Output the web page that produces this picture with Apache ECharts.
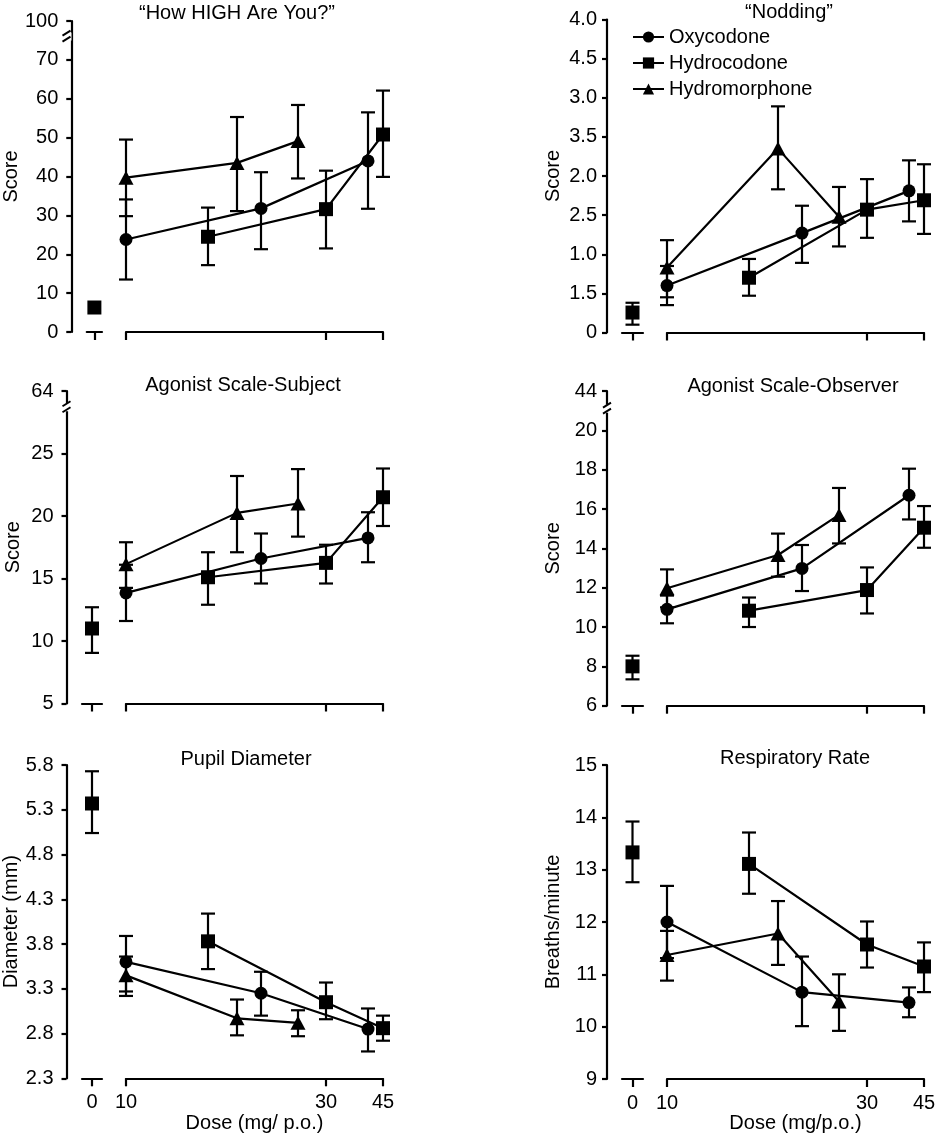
<!DOCTYPE html>
<html><head><meta charset="utf-8">
<script src="https://cdn.jsdelivr.net/npm/echarts@6/dist/echarts.min.js"></script>
<style>html,body{margin:0;padding:0;background:#fff}#c{width:942px;height:1143px}</style>
</head><body><div id="c"></div>
<script>
const FONT = '"Liberation Sans", Arial, Helvetica, sans-serif';

// x positions on the drawn (non-linear) dose scale: 10 mg -> 10, 30 mg -> 30, 45 mg -> 35.7
const oxyX = [10, 23.5, 34.2];
const hydroX = [18.2, 30, 35.7];
const hydromX = [10, 21.1, 27.2];
const placeboX = [0];
const xTickPos = [10, 30, 35.7];
const xTickLabels = ['10', '30', '45'];
const placeboTickLabels = ['0'];

// "How HIGH Are You?"
const highTicks = ['0','10','20','30','40','50','60','70','100'];
const highOxy = [23.8, 31.8, 44.0], highOxyLo = [13.5, 21.3, 31.7], highOxyHi = [34.1, 41.1, 56.5];
const highHydro = [24.5, 31.6, 50.8], highHydroLo = [17.2, 21.5, 39.9], highHydroHi = [32.0, 41.5, 62.1];
const highHydrom = [39.7, 43.5, 49.1], highHydromLo = [29.8, 31.1, 39.5], highHydromHi = [49.5, 55.3, 58.4];
const highPlacebo = [6.3], highPlaceboLo = [], highPlaceboHi = [];

// "Nodding"
const nodTicks = ['0','1.5','1.0','2.5','2.0','3.5','3.0','4.5','4.0'];
const nodOxy = [0.60, 1.27, 1.81], nodOxyLo = [0.35, 0.89, 1.42], nodOxyHi = [0.85, 1.62, 2.20];
const nodHydro = [0.70, 1.57, 1.69], nodHydroLo = [0.47, 1.21, 1.26], nodHydroHi = [0.94, 1.96, 2.15];
const nodHydrom = [0.83, 2.35, 1.48], nodHydromLo = [0.45, 1.83, 1.10], nodHydromHi = [1.18, 2.89, 1.86];
const nodPlacebo = [0.255], nodPlaceboLo = [0.10], nodPlaceboHi = [0.38];

// Agonist Scale-Subject
const agsTicks = ['5','10','15','20','25','64'];
const agsOxy = [13.85, 16.6, 18.25], agsOxyLo = [11.6, 14.6, 16.3], agsOxyHi = [16.1, 18.6, 20.3];
const agsHydro = [15.1, 16.25, 21.5], agsHydroLo = [12.9, 14.6, 19.2], agsHydroHi = [17.1, 17.7, 23.8];
const agsHydrom = [16.15, 20.25, 21.0], agsHydromLo = [14.25, 17.1, 18.35], agsHydromHi = [17.9, 23.2, 23.75];
const agsPlacebo = [11.0], agsPlaceboLo = [9.05], agsPlaceboHi = [12.7];

// Agonist Scale-Observer
const agoTicks = ['6','8','10','12','14','16','18','20','44'];
const agoOxy = [10.9, 12.98, 16.7], agoOxyLo = [10.19, 11.83, 15.47], agoOxyHi = [11.6, 14.17, 18.05];
const agoHydro = [10.83, 11.88, 15.05], agoHydroLo = [10.0, 10.69, 14.03], agoHydroHi = [11.5, 13.03, 16.15];
const agoHydrom = [11.97, 13.66, 15.7], agoHydromLo = [11.0, 12.56, 14.25], agoHydromHi = [12.93, 14.75, 17.07];
const agoPlacebo = [8.0], agoPlaceboLo = [7.34], agoPlaceboHi = [8.54];

// Pupil Diameter
const pupilTicks = ['2.3','2.8','3.3','3.8','4.3','4.8','5.3','5.8'];
const pupilOxy = [3.60, 3.25, 2.85], pupilOxyLo = [3.27, 3.0, 2.60], pupilOxyHi = [3.89, 3.49, 3.08];
const pupilHydro = [3.83, 3.15, 2.86], pupilHydroLo = [3.52, 2.96, 2.72], pupilHydroHi = [4.14, 3.37, 3.0];
const pupilHydrom = [3.45, 2.97, 2.92], pupilHydromLo = [3.22, 2.78, 2.77], pupilHydromHi = [3.66, 3.18, 3.06];
const pupilPlacebo = [5.37], pupilPlaceboLo = [5.04], pupilPlaceboHi = [5.73];

// Respiratory Rate
const respTicks = ['9','10','11','12','13','14','15'];
const respOxy = [12.0, 10.66, 10.46], respOxyLo = [11.31, 10.01, 10.18], respOxyHi = [12.69, 11.34, 10.75];
const respHydro = [13.11, 11.57, 11.15], respHydroLo = [12.54, 11.13, 10.66], respHydroHi = [13.71, 12.01, 11.61];
const respHydrom = [11.37, 11.78, 10.48], respHydromLo = [10.88, 11.18, 9.92], respHydromHi = [11.83, 12.40, 11.0];
const respPlacebo = [13.33], respPlaceboLo = [12.76], respPlaceboHi = [13.92];

const panels = [
  {title:'“How HIGH Are You?”', yName:'Score', ticks:highTicks, min:0, step:10, brk:76, col:0, top:21, height:311, tx:237, ty:3, bottom:false,
   d:[[highOxy,highOxyLo,highOxyHi],[highHydro,highHydroLo,highHydroHi],[highHydrom,highHydromLo,highHydromHi],[highPlacebo,highPlaceboLo,highPlaceboHi]]},
  {title:'“Nodding”', yName:'Score', ticks:nodTicks, min:0, step:0.5, brk:null, col:1, top:19.5, height:313, tx:789, ty:2, bottom:false,
   d:[[nodOxy,nodOxyLo,nodOxyHi],[nodHydro,nodHydroLo,nodHydroHi],[nodHydrom,nodHydromLo,nodHydromHi],[nodPlacebo,nodPlaceboLo,nodPlaceboHi]]},
  {title:'Agonist Scale-Subject', yName:'Score', ticks:agsTicks, min:5, step:5, brk:28.7, col:0, top:391, height:312.5, tx:243, ty:375, bottom:false,
   d:[[agsOxy,agsOxyLo,agsOxyHi],[agsHydro,agsHydroLo,agsHydroHi],[agsHydrom,agsHydromLo,agsHydromHi],[agsPlacebo,agsPlaceboLo,agsPlaceboHi]]},
  {title:'Agonist Scale-Observer', yName:'Score', ticks:agoTicks, min:6, step:2, brk:21.1, col:1, top:391, height:314.7, tx:793, ty:376, bottom:false,
   d:[[agoOxy,agoOxyLo,agoOxyHi],[agoHydro,agoHydroLo,agoHydroHi],[agoHydrom,agoHydromLo,agoHydromHi],[agoPlacebo,agoPlaceboLo,agoPlaceboHi]]},
  {title:'Pupil Diameter', yName:'Diameter (mm)', ticks:pupilTicks, min:2.3, step:0.5, brk:null, col:0, top:765, height:313.3, tx:246, ty:749, bottom:true, xName:'Dose (mg/ p.o.)',
   d:[[pupilOxy,pupilOxyLo,pupilOxyHi],[pupilHydro,pupilHydroLo,pupilHydroHi],[pupilHydrom,pupilHydromLo,pupilHydromHi],[pupilPlacebo,pupilPlaceboLo,pupilPlaceboHi]]},
  {title:'Respiratory Rate', yName:'Breaths/minute', ticks:respTicks, min:9, step:1, brk:null, col:1, top:765, height:314, tx:795, ty:748, bottom:true, xName:'Dose (mg/p.o.)',
   d:[[respOxy,respOxyLo,respOxyHi],[respHydro,respHydroLo,respHydroHi],[respHydrom,respHydromLo,respHydromHi],[respPlacebo,respPlaceboLo,respPlaceboHi]]}
];

const cols = [
  {axisX:66.5, pLeft:82, pWidth:20, mLeft:126, mWidth:257, lblMargin:13, nameGap:43},
  {axisX:607, pLeft:622, pWidth:21, mLeft:667, mWidth:257, lblMargin:10, nameGap:44}
];

const BLACK = '#000';
const LW = 2.2;
const lineSt = {color:BLACK, width:LW};
const txt = {fontFamily:FONT, fontSize:20, color:BLACK};
const names = ['Oxycodone','Hydrocodone','Hydromorphone'];
const symbols = ['circle','rect','triangle'];
const sizes = [13, 14, [15,14]];
const xsets = [oxyX, hydroX, hydromX];

function errRender(params, api) {
  const x = api.value(0), lo = api.value(1), hi = api.value(2);
  const p1 = api.coord([x, lo]), p2 = api.coord([x, hi]);
  const w = 7;
  const style = {stroke:BLACK, lineWidth:LW, fill:null};
  return {type:'group', children:[
    {type:'line', shape:{x1:p1[0], y1:p1[1], x2:p2[0], y2:p2[1]}, style},
    {type:'line', shape:{x1:p1[0]-w, y1:p1[1], x2:p1[0]+w, y2:p1[1]}, style},
    {type:'line', shape:{x1:p2[0]-w, y1:p2[1], x2:p2[0]+w, y2:p2[1]}, style}
  ]};
}

const grid = [], xAxis = [], yAxis = [], lineSeries = [], errSeries = [], title = [];
panels.forEach((p, i) => {
  const c = cols[p.col];
  const tickVals = p.ticks.map((_, k) => +(p.min + k * p.step).toFixed(4));
  const max = tickVals[tickVals.length - 1];
  const fmtY = v => { const k = Math.round((v - p.min) / p.step); return p.ticks[k] !== undefined ? p.ticks[k] : ''; };
  const gP = 2 * i, gM = 2 * i + 1;
  grid.push({left:c.pLeft, top:p.top, width:c.pWidth, height:p.height});
  grid.push({left:c.mLeft, top:p.top, width:c.mWidth, height:p.height});
  title.push({text:p.title, left:p.tx, top:p.ty, textAlign:'center', padding:0,
    textStyle:{fontFamily:FONT, fontSize:20, fontWeight:'normal', color:BLACK}});
  // placebo x axis
  xAxis.push({gridIndex:gP, type:'value', min:-1, max:1,
    axisLine:{show:true, onZero:false, lineStyle:lineSt},
    axisTick:{show:true, customValues:[0], length:8, lineStyle:lineSt},
    axisLabel:{show:p.bottom, customValues:[0], formatter:() => placeboTickLabels[0], margin:14, ...txt},
    splitLine:{show:false}});
  // main x axis
  xAxis.push({gridIndex:gM, type:'value', min:10, max:35.7,
    axisLine:{show:true, onZero:false, lineStyle:lineSt},
    axisTick:{show:true, customValues:xTickPos, length:8, lineStyle:lineSt},
    axisLabel:{show:p.bottom, customValues:xTickPos, margin:14, ...txt,
      formatter:v => { const k = xTickPos.findIndex(t => Math.abs(t - v) < 1e-6); return k >= 0 ? xTickLabels[k] : ''; }},
    splitLine:{show:false},
    name:p.bottom ? p.xName : '', nameLocation:'middle', nameGap:33, nameTextStyle:txt});
  // visible y axis (attached to placebo grid, offset to the left)
  yAxis.push({gridIndex:gP, type:'value', min:p.min, max:max, offset:c.pLeft - c.axisX,
    axisLine:{show:true, onZero:false, lineStyle:lineSt},
    axisTick:{show:true, customValues:tickVals, length:5, lineStyle:lineSt},
    axisLabel:{customValues:tickVals, formatter:fmtY, margin:c.lblMargin, ...txt},
    splitLine:{show:false},
    name:p.yName, nameLocation:'middle', nameGap:c.nameGap, nameTextStyle:txt});
  yAxis.push({gridIndex:gM, type:'value', min:p.min, max:max, show:false, splitLine:{show:false},
    axisLine:{onZero:false}});

  p.d.forEach((set, s) => {
    const xs = s < 3 ? xsets[s] : placeboX;
    const axIdx = s < 3 ? gM : gP;
    // error bars
    const errData = set[1].map((lo, k) => [xs[k], lo, set[2][k]]);
    errSeries.push({type:'custom', name:(s < 3 ? names[s] + ' SEM' : 'Placebo SEM'), xAxisIndex:axIdx, yAxisIndex:axIdx,
      renderItem:errRender, data:errData, encode:{x:0, y:[1,2]}, z:2, silent:true});
    // means
    if (s < 3) {
      lineSeries.push({type:'line', name:names[s], xAxisIndex:gM, yAxisIndex:gM, clip:false,
        data:set[0].map((v, k) => [xs[k], v]), symbol:symbols[s], symbolSize:sizes[s],
        showAllSymbol:true, itemStyle:{color:BLACK}, lineStyle:{color:BLACK, width:LW}, z:3});
    } else {
      lineSeries.push({type:'line', name:'Placebo', xAxisIndex:gP, yAxisIndex:gP, clip:false,
        data:set[0].map((v, k) => [xs[k], v]), symbol:'rect', symbolSize:14,
        itemStyle:{color:BLACK}, lineStyle:{width:0}, z:3});
    }
  });
});

const chart = echarts.init(document.getElementById('c'), null, {renderer:'canvas'});
chart.setOption({
  animation:false,
  backgroundColor:'#fff',
  color:[BLACK],
  title, grid, xAxis, yAxis,
  series:lineSeries.concat(errSeries),
  legend:{data:names, orient:'vertical', left:627, top:22, itemWidth:31, itemHeight:14, itemGap:6,
    textStyle:{fontFamily:FONT, fontSize:20, color:BLACK, lineHeight:20}, selectedMode:false}
});

// axis break marks ("//") on the y axes with a truncated top
const graphic = [];
panels.forEach((p, i) => {
  if (p.brk == null) return;
  const c = cols[p.col];
  const y = chart.convertToPixel({yAxisIndex:2 * i}, p.brk);
  const x = c.axisX;
  graphic.push({type:'rect', shape:{x:x - 5, y:y - 4, width:10, height:8}, style:{fill:'#fff'}, z:100});
  graphic.push({type:'line', shape:{x1:x - 4, y1:y - 1, x2:x + 4, y2:y - 6}, style:{stroke:BLACK, lineWidth:2}, z:101});
  graphic.push({type:'line', shape:{x1:x - 4, y1:y + 5, x2:x + 4, y2:y}, style:{stroke:BLACK, lineWidth:2}, z:101});
});
chart.setOption({graphic});
</script>
</body></html>
